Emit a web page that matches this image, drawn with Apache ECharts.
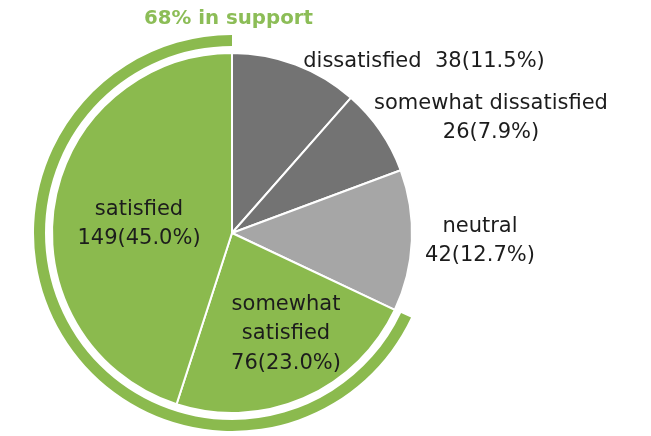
<!DOCTYPE html>
<html>
<head>
<meta charset="utf-8">
<script src="https://cdn.jsdelivr.net/npm/echarts@6/dist/echarts.min.js"></script>
<style>
  html, body { margin: 0; padding: 0; background: #ffffff; }
  #chart { width: 651px; height: 436px; }
</style>
</head>
<body>
<div id="chart"></div>
<script>
// Satisfaction survey responses
const categories = ['dissatisfied', 'somewhat dissatisfied', 'neutral', 'somewhat satisfied', 'satisfied'];
const counts = [38, 26, 42, 76, 149];
const shares = [11.5, 7.9, 12.7, 23.0, 45.0];
// how each category name is broken across lines in its label
const labelNames = ['dissatisfied  ', 'somewhat dissatisfied\n', 'neutral\n', 'somewhat\nsatisfied\n', 'satisfied\n'];
// which categories count as support (drawn by the outer arc)
const supportFlags = [false, false, false, true, true];
const supportTitle = '68% in support';

// styling
const sliceColors = ['#737373', '#737373', '#a6a6a6', '#8bba4e', '#8bba4e'];
const labelInside = [false, false, false, true, true];
// label block centres, relative to the pie centre
const labelAnchors = [[192, -171], [259, -115], [248, 8], [54, 101], [-93, -9]];
const FONT = 'DejaVu Sans';

const CX = 232, CY = 233, R = 180;

const total = counts.reduce((a, b) => a + b, 0);
const supportTotal = counts.filter((_, i) => supportFlags[i]).reduce((a, b) => a + b, 0);

const pieData = categories.map((name, i) => ({
  name: name,
  value: counts[i],
  itemStyle: { color: sliceColors[i] },
  label: {
    position: labelInside[i] ? 'inside' : 'outside',
    formatter: labelNames[i] + counts[i] + '(' + shares[i].toFixed(1) + '%)'
  }
}));

const ringData = [
  { name: 'other', value: total - supportTotal, itemStyle: { color: 'rgba(0,0,0,0)' } },
  { name: 'support', value: supportTotal, itemStyle: { color: '#8bba4e' } }
];

const chart = echarts.init(document.getElementById('chart'), null, { renderer: 'canvas' });
chart.setOption({
  animation: false,
  backgroundColor: '#ffffff',
  title: {
    text: supportTitle,
    left: 139,
    top: 4,
    textStyle: {
      fontFamily: FONT,
      fontSize: 19.8,
      fontWeight: 'bold',
      color: '#8cbd57'
    }
  },
  series: [
    {
      type: 'pie',
      center: [CX, CY],
      radius: [0, R],
      startAngle: 90,
      clockwise: true,
      avoidLabelOverlap: false,
      data: pieData,
      itemStyle: { borderColor: '#ffffff', borderWidth: 2 },
      label: {
        show: true,
        fontFamily: FONT,
        fontSize: 21,
        lineHeight: 29.5,
        color: '#1c1c1c',
        align: 'center'
      },
      labelLine: { show: false },
      labelLayout: function (params) {
        const a = labelAnchors[params.dataIndex];
        return { x: CX + a[0], y: CY + a[1], align: 'center', verticalAlign: 'middle' };
      }
    },
    {
      type: 'pie',
      silent: true,
      center: [CX, CY],
      radius: [187, 198],
      startAngle: 90,
      clockwise: true,
      data: ringData,
      label: { show: false },
      labelLine: { show: false }
    }
  ]
});
</script>
</body>
</html>
